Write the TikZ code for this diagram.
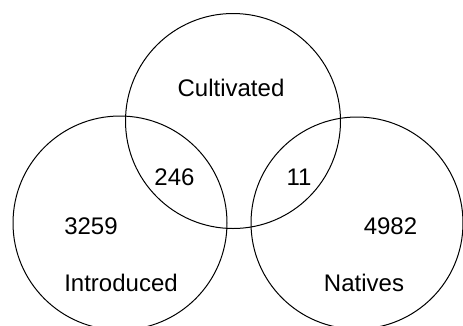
\documentclass[tikz,border=0pt]{standalone}
\usepackage{fontspec}
\setmainfont{Liberation Sans}
\begin{document}
\begin{tikzpicture}[x=1pt,y=-1pt,set/.style={line width=1pt},label/.style={anchor=base,inner sep=0pt,font=\fontsize{24}{28}\selectfont}]
          \useasboundingbox (0,0) rectangle (463,325);
          \clip (0,0) rectangle (463,325);
          \coordinate (cult) at (233,121);
          \coordinate (intro) at (120,223);
          \coordinate (nat) at (357,223);
          \begin{scope}[set]
            \draw (cult) circle[radius=107.5pt];
            \draw (intro) circle[radius=107pt];
            \draw (nat) circle[radius=106pt];
          \end{scope}
          \node[label] (cultname) at (231,96) {Cultivated};
          \node[label] (cultintro) at (174.5,185.7) {246};
          \node[label] (cultnat) at (299,185.7) {11};
          \node[label] (intronum) at (91,234.3) {3259};
          \node[label] (natnum) at (390.5,234.3) {4982};
          \node[label] (introname) at (121,291.7) {Introduced};
          \node[label] (natname) at (364,291.7) {Natives};
        \end{tikzpicture}
\end{document}
